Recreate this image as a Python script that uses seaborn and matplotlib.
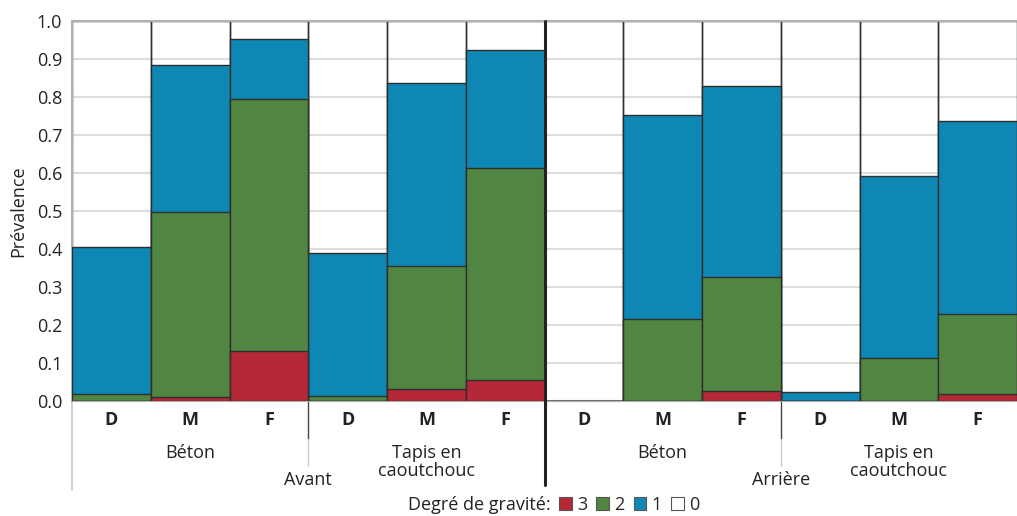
import numpy as np
import pandas as pd
import matplotlib
matplotlib.use("Agg")
import matplotlib.pyplot as plt
from matplotlib.patches import Patch
import matplotlib.transforms as mtransforms
import seaborn as sns

# ---- data ----
positions = ["Avant"] * 6 + ["Arrière"] * 6
surfaces = ["Béton"] * 3 + ["Tapis en caoutchouc"] * 3 + ["Béton"] * 3 + ["Tapis en caoutchouc"] * 3
ages = ["D", "M", "F"] * 4
sev3 = [0.0, 0.010, 0.132, 0.0, 0.032, 0.055, 0.0, 0.0, 0.026, 0.0, 0.0, 0.018]
sev2 = [0.018, 0.487, 0.662, 0.012, 0.323, 0.557, 0.0, 0.215, 0.300, 0.0, 0.112, 0.210]
sev1 = [0.387, 0.386, 0.159, 0.377, 0.481, 0.311, 0.0, 0.538, 0.502, 0.025, 0.480, 0.508]
sev0 = [1.0 - a - b - c for a, b, c in zip(sev3, sev2, sev1)]
levels = ["3", "2", "1", "0"]
colors = {"3": "#B52837", "2": "#508642", "1": "#0F87B4", "0": "#FFFFFF"}
legend_title = "Degré de gravité:"
ylabel = "Prévalence"

sns.set_theme(style="white")
plt.rcParams["font.family"] = ["Open Sans", "DejaVu Sans"]
FS = 13
TXT = "#222222"

keys = [f"{p}|{s}|{a}" for p, s, a in zip(positions, surfaces, ages)]
df = pd.DataFrame({"bar": keys, "s3": sev3, "s2": sev2, "s1": sev1, "s0": sev0})
df["c3"] = df["s3"]
df["c2"] = df["c3"] + df["s2"]
df["c1"] = df["c2"] + df["s1"]
df["c0"] = df["c1"] + df["s0"]

fig = plt.figure(figsize=(10.17, 5.16), dpi=100)
ax = fig.add_axes([72 / 1017, 1 - 401 / 516, 1 - 72 / 1017, 380 / 516])

edge = "#2e2e2e"
# total (unfilled) layer
sns.barplot(data=df, x="bar", y="c0", order=keys, fill=False, color=edge,
            width=1.0, linewidth=1.0, errorbar=None, ax=ax, zorder=2)
for col, lev in [("c1", "1"), ("c2", "2"), ("c3", "3")]:
    sns.barplot(data=df, x="bar", y=col, order=keys, color=colors[lev],
                saturation=1, width=1.0, edgecolor=edge, linewidth=1.0,
                errorbar=None, ax=ax, zorder=3)

ax.set_xlim(-0.5, len(keys) - 0.5)
ax.set_ylim(0, 1.0)
yt = np.round(np.arange(0, 1.01, 0.1), 1)
ax.set_yticks(yt)
ax.set_yticklabels([f"{v:.1f}" for v in yt], fontsize=FS, color=TXT)
ax.yaxis.grid(True, color="#dddddd", linewidth=1.5, zorder=0)
ax.set_axisbelow(True)
ax.tick_params(axis="y", length=0, pad=7)
ax.set_ylabel(ylabel, fontsize=FS, color=TXT, labelpad=7)
ax.set_xlabel("")
ax.set_xticks(range(len(keys)))
ax.set_xticklabels(ages, fontsize=FS, fontweight="bold", color=TXT)
ax.tick_params(axis="x", length=0, pad=7)

for side in ["top", "left", "bottom"]:
    ax.spines[side].set_color("#b0b0b0")
    ax.spines[side].set_linewidth(1.5)
ax.spines["right"].set_visible(False)

trans = mtransforms.blended_transform_factory(ax.transData, ax.transAxes)

# left extension line
ax.plot([-0.5, -0.5], [0, -0.234], transform=trans, color="#c8c8c8", lw=1.2, clip_on=False)
# surface separators
for xs in [2.5, 8.5]:
    ax.plot([xs, xs], [0, -0.10], transform=trans, color="#444444", lw=1.0, clip_on=False)
    ax.plot([xs, xs], [-0.10, -0.17], transform=trans, color="#cccccc", lw=1.0, clip_on=False)
# position separator
ax.plot([5.5, 5.5], [1.0, -0.221], transform=trans, color="#222222", lw=2.2, clip_on=False, zorder=6)

# surface labels
for grp in range(4):
    xc = grp * 3 + 1
    s = surfaces[grp * 3]
    if s == "Béton":
        ax.text(xc, -0.150, s, transform=trans, ha="center", va="baseline", fontsize=FS, color=TXT)
    else:
        w = s.split(" ")
        ax.text(xc, -0.150, " ".join(w[:2]), transform=trans, ha="center", va="baseline", fontsize=FS, color=TXT)
        ax.text(xc, -0.197, w[2], transform=trans, ha="center", va="baseline", fontsize=FS, color=TXT)
# position labels
for i, p in enumerate(["Avant", "Arrière"]):
    ax.text(2.5 + 6 * i, -0.221, p, transform=trans, ha="center", va="baseline", fontsize=FS, color=TXT)

# legend
fig.text(551 / 1017, 1 - 505 / 516, legend_title, ha="right", va="center", fontsize=FS, color=TXT)
handles = [Patch(facecolor=colors[l], edgecolor="#555555", linewidth=0.8, label=l) for l in levels]
fig.legend(handles=handles, loc="center left", bbox_to_anchor=(559 / 1017, 1 - 505 / 516), ncol=4,
           frameon=False, fontsize=FS, handlelength=0.7, handleheight=0.7, handletextpad=0.3,
           columnspacing=0.5, borderaxespad=0, borderpad=0)

fig.savefig("out.png", dpi=100)
